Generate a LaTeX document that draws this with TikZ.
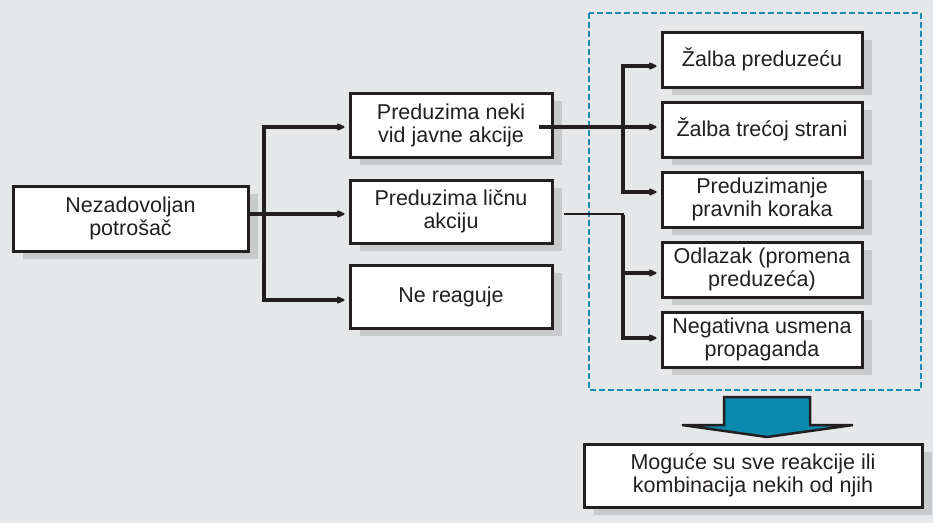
\documentclass[tikz,border=0pt]{standalone}
\usepackage{fontspec}
\setmainfont{Liberation Sans}
\usetikzlibrary{arrows.meta,shadows}
\definecolor{bg}{HTML}{E6E7E9}
\definecolor{shd}{HTML}{C8C9CB}
\definecolor{ink}{HTML}{231F20}
\definecolor{teal}{HTML}{1A8DB2}
\definecolor{arrfill}{HTML}{0A89AF}
\tikzset{
  box/.style={draw=ink, line width=3pt, fill=white, text=ink, align=center,
    inner sep=0pt, font=\fontsize{21.5}{23}\selectfont,
    general shadow={fill=shd, shadow xshift=10pt, shadow yshift=-8pt}},
  arr/.style={draw=ink, line width=4pt, -{Stealth[length=10pt,width=9pt,inset=2.5pt,round]}, shorten >=4pt},
  thick line/.style={draw=ink, line width=4pt},
  thin line/.style={draw=ink, line width=2.5pt},
}
\begin{document}
\begin{tikzpicture}[x=1pt,y=-1pt]
\fill[bg] (0,0) rectangle (933,523);
\useasboundingbox (0,0) rectangle (933,523);

% dashed frame
\draw[teal, line width=1.6pt, dash pattern=on 6pt off 3pt] (589,13) rectangle (921,390);

% boxes
\node[box, minimum width=235pt, minimum height=65pt] (a) at (130.5,218.5) {Nezadovoljan\\potrošač};
\node[box, minimum width=202pt, minimum height=64pt] (b1) at (451,125) {Preduzima neki\\vid javne akcije};
\node[box, minimum width=202pt, minimum height=63pt] (b2) at (451,211.5) {Preduzima ličnu\\akciju};
\node[box, minimum width=202pt, minimum height=63pt] (b3) at (451,296.5) {Ne reaguje};

\node[box, minimum width=200pt, minimum height=55pt] (r1) at (762,59.5) {Žalba preduzeću};
\node[box, minimum width=200pt, minimum height=55pt] (r2) at (762,129.5) {Žalba trećoj strani};
\node[box, minimum width=200pt, minimum height=55pt] (r3) at (762,199.5) {Preduzimanje\\pravnih koraka};
\node[box, minimum width=200pt, minimum height=55pt] (r4) at (762,269.5) {Odlazak (promena\\preduzeća)};
\node[box, minimum width=200pt, minimum height=55pt] (r5) at (762,339.5) {Negativna usmena\\propaganda};

\node[box, minimum width=338pt, minimum height=63pt] (c) at (753,475.5) {Moguće su sve reakcije ili\\kombinacija nekih od njih};

% left tree
\coordinate (j0) at (264,214);
\coordinate (j1) at (264,127);
\coordinate (j3) at (264,300);
\draw[thick line] (a.east |- j0) -- (j0);
\draw[thick line] (j1) -- (j3);
\draw[arr] ([xshift=-2pt]j1) -- (j1 -| b1.west);
\draw[arr] (j0) -- (j0 -| b2.west);
\draw[arr] ([xshift=-2pt]j3) -- (j3 -| b3.west);

% upper right tree
\coordinate (k1) at (623,66);
\coordinate (k2) at (623,127);
\coordinate (k3) at (623,192);
\draw[arr] ([xshift=-15pt]b1.east |- k2) -- (k2 -| r2.west);
\draw[thick line] (k1) -- (k3);
\draw[arr] ([xshift=-2pt]k1) -- (k1 -| r1.west);
\draw[arr] ([xshift=-2pt]k3) -- (k3 -| r3.west);

% lower right tree
\coordinate (m0) at (623,214);
\coordinate (m4) at (623,273);
\coordinate (m5) at (623,338);
\draw[thin line] ([xshift=10pt]b2.east |- m0) -- ([xshift=1pt]m0);
\draw[thick line] ([yshift=-1pt]m0) -- (m5);
\draw[arr] ([xshift=-2pt]m4) -- (m4 -| r4.west);
\draw[arr] ([xshift=-2pt]m5) -- (m5 -| r5.west);

% block arrow
\draw[draw=ink, line width=2.5pt, fill=arrfill, line join=miter]
  (724,397) -- (810,397) -- (810,425) -- (853,425) -- (767,437) -- (682,425) -- (724,425) -- cycle;
\end{tikzpicture}
\end{document}
